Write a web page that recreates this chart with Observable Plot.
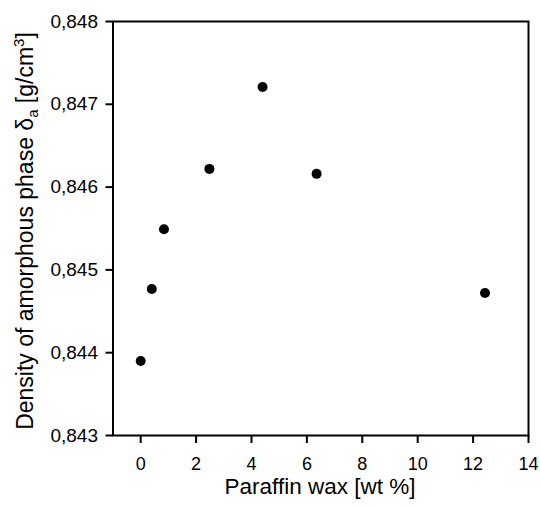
<!DOCTYPE html>
<html>
<head>
<meta charset="utf-8">
<script src="https://cdn.jsdelivr.net/npm/d3@7"></script>
<script src="https://cdn.jsdelivr.net/npm/@observablehq/plot@0.6"></script>
<style>
  html, body { margin: 0; padding: 0; background: #fff; }
  svg { display: block; }
</style>
</head>
<body>
<div id="chart"></div>
<script>
const paraffin = [0, 0.4, 0.84, 2.48, 4.4, 6.35, 12.43];
const density = [0.84390, 0.84477, 0.84549, 0.84622, 0.84721, 0.84616, 0.84472];
const xTicks = [0, 2, 4, 6, 8, 10, 12, 14];
const yTicks = [0.843, 0.844, 0.845, 0.846, 0.847, 0.848];
const xLabel = "Paraffin wax [wt %]";

const data = paraffin.map((x, i) => ({x, y: density[i]}));
const fmt = d3.formatLocale({decimal: ",", thousands: ".", grouping: [3], currency: ["", ""]}).format(".3f");
const FONT = "'Liberation Sans', Arial, sans-serif";

const chart = Plot.plot({
  width: 540,
  height: 507,
  marginLeft: 112.5,
  marginRight: 12,
  marginTop: 21,
  marginBottom: 72,
  style: {fontFamily: FONT, background: "#fff", color: "#000"},
  x: {domain: [-1, 14]},
  y: {domain: [0.843, 0.848]},
  marks: [
    Plot.axisY({ticks: yTicks, tickSize: 7, tickPadding: 8, tickFormat: fmt, fontSize: 19, strokeWidth: 2, label: null}),
    Plot.axisX({ticks: xTicks, tickSize: 8, tickPadding: 14, tickFormat: d => String(d), fontSize: 18, strokeWidth: 2, label: null}),
    Plot.frame({stroke: "#000", strokeWidth: 2}),
    Plot.dot(data, {x: "x", y: "y", r: 5, fill: "#000", stroke: "none"})
  ]
});
document.getElementById("chart").appendChild(chart);

const svg = d3.select(chart);
svg.append("text")
  .attr("x", 320).attr("y", 494)
  .attr("text-anchor", "middle")
  .attr("font-family", FONT).attr("font-size", 22.5).attr("fill", "#000")
  .text(xLabel);

const yl = svg.append("text")
  .attr("transform", "translate(33,231) rotate(-90)")
  .attr("text-anchor", "middle")
  .attr("font-family", FONT).attr("font-size", 23).attr("fill", "#000");
yl.append("tspan").text("Density of amorphous phase ");
yl.append("tspan").text("δ");
yl.append("tspan").attr("font-size", 15).attr("dy", 5).text("a");
yl.append("tspan").attr("dy", -5).text(" [g/cm");
yl.append("tspan").attr("font-size", 15).attr("dy", -9).text("3");
yl.append("tspan").attr("dy", 9).text("]");
</script>
</body>
</html>
